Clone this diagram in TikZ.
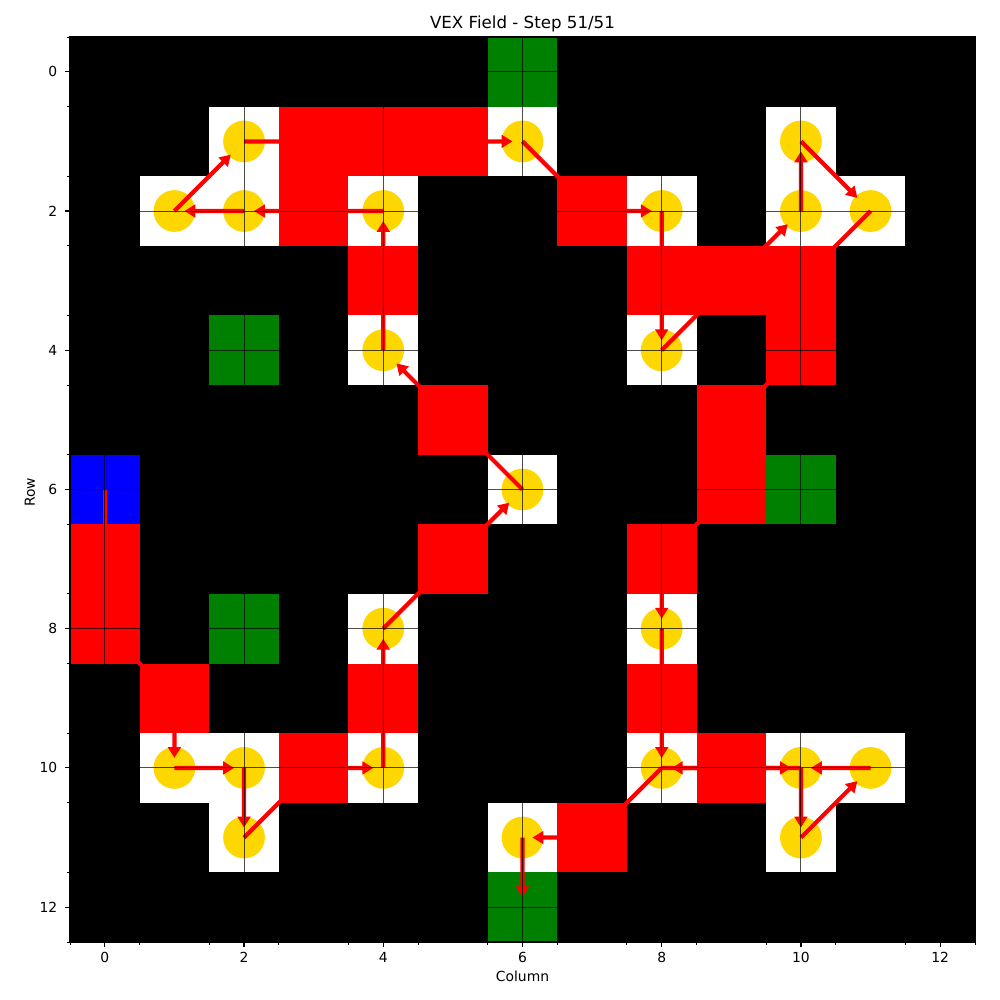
\documentclass[tikz,border=0pt]{standalone}
\usepackage{fontspec}
\setmainfont{DejaVu Sans}
\usetikzlibrary{arrows.meta, calc}

\definecolor{fieldgreen}{HTML}{008000}
\definecolor{ballgold}{HTML}{FFD700}

\begin{document}
\begin{tikzpicture}[
  x=0.69615cm, y=-0.69615cm,
  cellfill/.style = {fill=#1, draw=none},
  ball/.style     = {fill=ballgold, draw=none},
  move/.style     = {-{Triangle[length=3.1pt, width=3.6pt]}, red, line width=1.2pt},
  gridline/.style = {black, opacity=0.7, line width=0.28pt},
  majtick/.style  = {black, line width=0.32pt},
  mintick/.style  = {black, line width=0.24pt},
  ticklbl/.style  = {font=\fontsize{3.95}{4.7}\selectfont, inner sep=0pt},
  axlbl/.style    = {font=\fontsize{3.95}{4.7}\selectfont, inner sep=0pt, anchor=base}
]
\useasboundingbox (-1.5054,-1.0314) rectangle (12.8594,13.3333);

% field
\fill[black] (-0.5,-0.5) rectangle (12.5,12.5);

\foreach \c/\r in {3/1,4/1,5/1,3/2,7/2,4/3,8/3,9/3,10/3,10/4,5/5,9/5,9/6,0/7,5/7,
                   8/7,0/8,1/9,4/9,8/9,3/10,9/10,7/11}
  \fill[cellfill=red] (\c-0.5,\r-0.5) rectangle ++(1,1);

\foreach \c/\r in {6/0,2/4,10/6,2/8,6/12}
  \fill[cellfill=fieldgreen] (\c-0.5,\r-0.5) rectangle ++(1,1);

\fill[cellfill=blue] (-0.5,5.5) rectangle ++(1,1);

% goals
\foreach \c/\r in {2/1,6/1,10/1,1/2,2/2,4/2,8/2,10/2,11/2,4/4,8/4,6/6,4/8,8/8,
                   1/10,2/10,4/10,8/10,10/10,11/10,2/11,6/11,10/11} {
  \fill[cellfill=white] (\c-0.5,\r-0.5) rectangle ++(1,1);
  \fill[ball] (\c,\r) circle[radius=0.3];
}

% robot path
\foreach \c/\r [count=\k] in {0/6,0/7,0/8,1/9,1/10,2/10,2/11,3/10,4/10,4/9,4/8,5/7,6/6,
                              5/5,4/4,4/3,4/2,3/2,2/2,1/2,2/1,3/1,4/1,5/1,6/1,7/2,8/2,
                              8/3,8/4,9/3,10/2,10/1,11/2,10/3,10/4,9/5,9/6,8/7,8/8,8/9,
                              8/10,9/10,10/10,10/11,11/10,10/10,9/10,8/10,7/11,6/11,6/12}
  \coordinate (p\k) at (\c,\r);

\foreach \k [evaluate=\k as \j using int(\k+1)] in {1,...,50} {
  \coordinate (mid) at ($(p\k)!0.7!(p\j)$);
  \draw[move] (p\k) -- ($(mid)!1.09mm!(p\j)$);
}

% grid and axes
\foreach \g in {0,2,...,12} {
  \draw[gridline] (\g,-0.5) -- (\g,12.5);
  \draw[gridline] (-0.5,\g) -- (12.5,\g);
}
\draw[majtick] (-0.5,-0.5) rectangle (12.5,12.5);

\foreach \g in {0,2,...,12} {
  \draw[majtick] (\g,12.5) -- ++(0,0.0704);
  \draw[majtick] (-0.5,\g) -- ++(-0.0704,0);
  \node[ticklbl, anchor=north] (xt\g) at (\g,12.644) {\g};
  \node[ticklbl, anchor=east] (yt\g) at (-0.672,\g) {\g};
}
\foreach \g in {-0.5,0.5,...,12.5} {
  \draw[mintick] (\g,12.5) -- ++(0,0.0402);
  \draw[mintick] (-0.5,\g) -- ++(-0.0402,0);
}

\node[axlbl] (xlab) at (6,13.07) {Column};
\node[axlbl, rotate=90] (ylab) at (-1.0027,6.04) {Row};
\node[anchor=base, inner sep=0pt, font=\fontsize{4.74}{5.7}\selectfont] (title)
  at (6,-0.615) {VEX Field - Step 51/51};

\end{tikzpicture}
\end{document}
